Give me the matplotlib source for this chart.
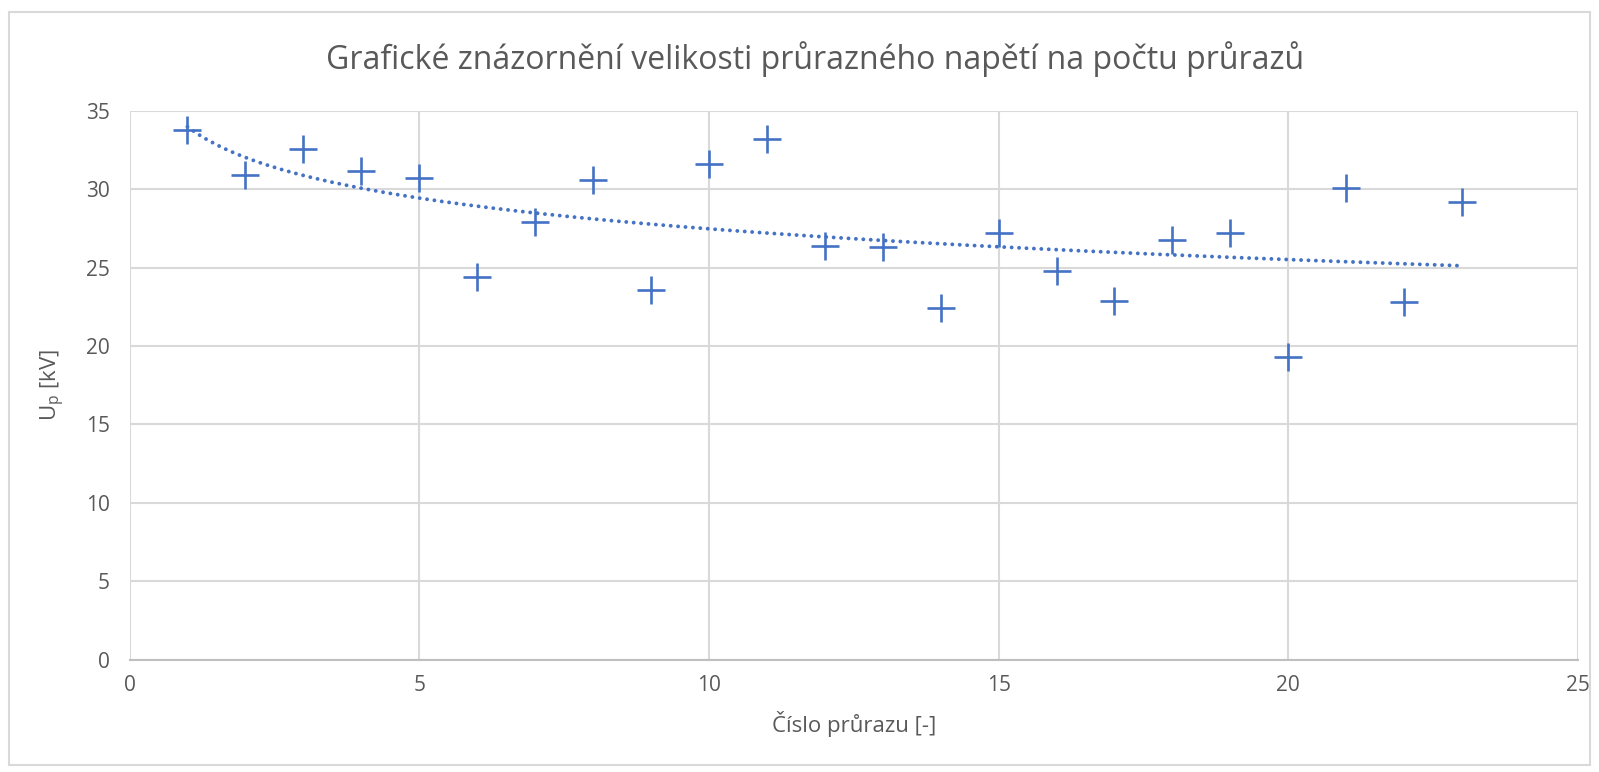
import numpy as np
import matplotlib
matplotlib.use('Agg')
import matplotlib.pyplot as plt
from matplotlib.patches import Rectangle

plt.rcParams['font.family'] = ['Open Sans', 'DejaVu Sans']
plt.rcParams['mathtext.default'] = 'regular'

# cislo pruzaru a prurazne napeti [kV]
cislo = [1, 2, 3, 4, 5, 6, 7, 8, 9, 10, 11, 12,
         13, 14, 15, 16, 17, 18, 19, 20, 21, 22, 23]
napeti = [33.8, 30.9, 32.6, 31.2, 30.7, 24.4, 27.9, 30.6, 23.6, 31.6, 33.2, 26.4,
          26.3, 22.4, 27.2, 24.8, 22.9, 26.8, 27.2, 19.3, 30.1, 22.8, 29.2]

x_ticks = [0, 5, 10, 15, 20, 25]
y_ticks = [0, 5, 10, 15, 20, 25, 30, 35]

title = 'Grafické znázornění velikosti průrazného napětí na počtu průrazů'
x_label = 'Číslo průrazu [-]'
y_label = 'U$_{p}$ [kV]'

blue = '#4472C4'
grey_text = '#595959'
grid_c = '#D9D9D9'

fig = plt.figure(figsize=(15.99, 7.72), dpi=100)
ax = fig.add_axes([129.5 / 1599, 1 - 659.5 / 772, (1578 - 129.5) / 1599, (659.5 - 111) / 772])

# chart border
fig.patches.append(Rectangle((9 / 1599, 1 - 765 / 772), 1581 / 1599, 753 / 772,
                             transform=fig.transFigure, fill=False,
                             edgecolor=grid_c, lw=1.5))

x = np.array(cislo, dtype=float)
y = np.array(napeti)

# logaritmicky trend
b, a = np.polyfit(np.log(x), y, 1)
xt = np.linspace(x.min(), x.max(), 300)
ax.plot(xt, a + b * np.log(xt), color=blue, lw=2.8,
        linestyle=(0, (0.01, 1.9)), dash_capstyle='round', zorder=2)

ax.plot(x, y, linestyle='none', marker='+', markersize=20, markeredgewidth=1.9,
        color=blue, zorder=3)

ax.set_xlim(0, 25)
ax.set_ylim(0, 35)
ax.set_xticks(x_ticks)
ax.set_yticks(y_ticks)
ax.grid(True, color=grid_c, lw=1.5)
ax.set_axisbelow(True)
for s in ['top', 'right', 'left']:
    ax.spines[s].set_visible(False)
ax.spines['bottom'].set_color('#BFBFBF')
ax.spines['bottom'].set_linewidth(1.5)
ax.tick_params(length=0, labelsize=15, labelcolor=grey_text, pad=11)
ax.tick_params(axis='y', pad=14)

ax.set_xlabel(x_label, fontsize=16, color=grey_text, labelpad=11)
ax.set_ylabel(y_label, fontsize=16, color=grey_text, labelpad=14)
fig.text(815 / 1599, 1 - 59 / 772, title, ha='center', va='center', fontsize=23, color=grey_text)

fig.savefig('out.png', dpi=100)
